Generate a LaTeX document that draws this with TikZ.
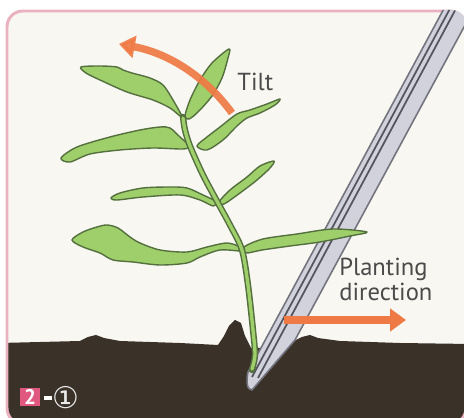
\documentclass[tikz,border=0pt]{standalone}
\usepackage{fontspec}
\setmainfont{PT Sans}
\newfontfamily\symfont{DejaVu Sans}
\usetikzlibrary{arrows.meta}

\definecolor{paper}{HTML}{F8F7F1}
\definecolor{framepink}{HTML}{EAB2C0}
\definecolor{soil}{HTML}{3A3129}
\definecolor{leafgreen}{HTML}{9FCF6B}
\definecolor{leafedge}{HTML}{55703F}
\definecolor{polefill}{HTML}{D2D2DD}
\definecolor{poleedge}{HTML}{74747E}
\definecolor{polestripe}{HTML}{55555F}
\definecolor{arroworange}{HTML}{EF7A45}
\definecolor{textgrey}{HTML}{4A4A4A}
\definecolor{tagpink}{HTML}{E0587F}

\tikzset{
  leaf/.style={fill=leafgreen, draw=leafedge, line width=0.8pt, line join=round},
  push/.style={draw=arroworange, line width=4.2pt, -{Triangle[length=9pt,width=12.5pt]}},
  notetext/.style={text=textgrey, inner sep=0pt, font=\fontsize{14}{11.5}\selectfont, align=left},
}

\begin{document}
\begin{tikzpicture}[x=0.02cm, y=-0.02cm]
  \useasboundingbox (0,0) rectangle (464,418);

  % panel
  \fill[paper, rounded corners=9pt] (7,11) rectangle (466,424);

  % soil
  \begin{scope}
    \clip[rounded corners=9pt] (7,11) rectangle (466,424);
    \fill[soil] (0,343) -- (40,342) -- (80,341) -- (88,337) -- (96,335) -- (104,338)
      -- (120,341) -- (180,343) -- (218,345) -- (224,336) -- (229,326) -- (235,320)
      -- (241,323) -- (245,336) -- (251,348) -- (272,348) -- (290,343) -- (302,337)
      -- (310,335) -- (318,338) -- (340,341) -- (400,343) -- (470,344)
      -- (470,430) -- (0,430) -- cycle;
  \end{scope}

  \draw[framepink, line width=1.7pt, rounded corners=9pt] (7,11) rectangle (466,424);

  % planting stick
  \begin{scope}
    \clip[rounded corners=9pt] (6,10) rectangle (467,425);
    \draw[fill=polefill, draw=poleedge, line width=0.9pt, line join=round]
      (454,-10) -- (248,372) .. controls (246,382) and (247,390) .. (252,390)
      -- (295,340) -- (484,-10) -- cycle;
    \draw[polestripe, line width=1pt] (460,-10) -- (252,377);
    \draw[polestripe, line width=1pt] (466,-10) -- (258,378);
  \end{scope}

  \draw[push] (284,320) -- (406,320);

  % leaves
  \draw[leaf] plot[smooth cycle, tension=0.5] coordinates {
    (182,117) (173,100) (163,85) (150,78) (132,73) (123,70) (117,67) (100,66) (81,67)
    (86,73) (100,80) (127,92) (153,100) (170,108)};
  \draw[leaf] plot[smooth cycle, tension=0.5] coordinates {
    (185,116) (190,100) (200,80) (212,63) (229,49) (228,58) (222,78) (212,96) (198,112) (189,119)};
  \draw[leaf] plot[smooth cycle, tension=0.5] coordinates {
    (189,146) (180,137) (170,128) (160,127) (140,130) (110,137) (77,147) (61,158)
    (70,162) (90,154) (120,150) (153,148) (183,149)};
  \draw[leaf] plot[smooth cycle, tension=0.5] coordinates {
    (197,146) (207,137) (220,127) (237,114) (250,110) (267,104) (280,99)
    (275,105) (260,113) (247,118) (237,126) (223,140) (207,150)};
  \draw[leaf] plot[smooth cycle, tension=0.5] coordinates {
    (217,202) (203,195) (187,188) (170,187) (143,188) (120,193) (111,198)
    (117,200) (143,197) (180,195) (200,200) (213,206)};
  \draw[leaf] plot[smooth cycle, tension=0.5] coordinates {
    (219,202) (230,190) (247,177) (260,166) (274,161) (270,168) (257,180) (240,193) (224,204)};
  \draw[leaf] plot[smooth cycle, tension=0.5] coordinates {
    (240,247) (227,243) (207,247) (187,252) (160,250) (140,243) (130,237) (118,228)
    (107,225) (97,227) (83,232) (72,240) (83,247) (100,253) (113,260) (133,262)
    (160,265) (187,263) (200,257) (220,250) (242,251)};
  \draw[leaf] plot[smooth cycle, tension=0.5] coordinates {
    (244,247) (263,239) (297,234) (333,229) (367,232) (350,236) (320,242) (290,246) (262,250) (246,253)};

  % stem
  \draw[leafedge, line width=3.6pt, line cap=round] plot[smooth, tension=0.5] coordinates {
    (252,370) (255,355) (253,330) (248,285) (242,250) (230,225) (218,203) (203,175)
    (190,146) (185,130) (183,117)};
  \draw[leafgreen, line width=1.9pt, line cap=round] plot[smooth, tension=0.5] coordinates {
    (252,369) (255,355) (253,330) (248,285) (242,250) (230,225) (218,203) (203,175)
    (190,146) (185,130) (183,118)};

  % tilt arrow
  \draw[push, opacity=0.92] (232,113) .. controls (205,76) and (168,53) .. (119,44);

  % texts
  \node[notetext, anchor=base west] (tilt) at (237,91) {Tilt};
  \node[notetext, anchor=north west] (direction) at (339,258) {Planting\\direction};

  % step tag
  \node[fill=tagpink, text=white, inner sep=0pt, minimum width=0.4cm, minimum height=0.36cm,
    font=\bfseries\fontsize{12}{12}\selectfont] (steptag) at (30,397) {2};
  \fill[white] (44,396) rectangle (52,400);
  \node[text=white!85!gray, inner sep=0pt, font=\symfont\fontsize{17}{17}\selectfont] (substep) at (66,398) {①};
\end{tikzpicture}
\end{document}
